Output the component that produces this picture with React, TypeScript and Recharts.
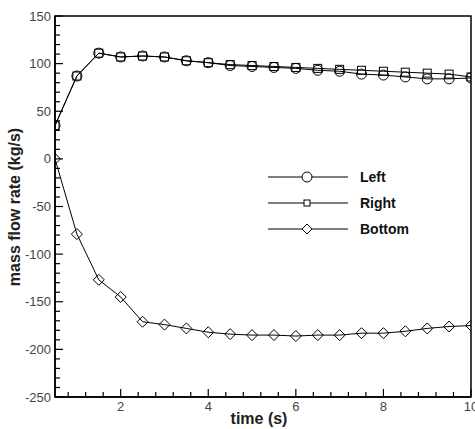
import React from 'react';
import { LineChart, Line, XAxis, YAxis, ReferenceArea } from 'recharts';

const time = [0.5, 1, 1.5, 2, 2.5, 3, 3.5, 4, 4.5, 5, 5.5, 6, 6.5, 7, 7.5, 8, 8.5, 9, 9.5, 10];
const leftFlow = [35, 87, 111, 107, 108, 107, 103, 101, 98, 97, 96, 95, 93, 92, 89, 88, 86, 84, 84, 85];
const rightFlow = [35, 87, 111, 107, 108, 107, 103, 101, 99, 98, 97, 96, 95, 94, 93, 92, 91, 90, 89, 86];
const bottomFlow = [0, -79, -127, -145, -171, -174, -178, -182, -184, -185, -185, -186, -185, -185, -183, -183, -181, -178, -176, -175];

const xMajor = [2, 4, 6, 8, 10];
const xTicks = [0.8, 1.2, 1.6, 2, 2.4, 2.8, 3.2, 3.6, 4, 4.4, 4.8, 5.2, 5.6, 6, 6.4, 6.8, 7.2, 7.6, 8, 8.4, 8.8, 9.2, 9.6, 10];
const yMajor = [150, 100, 50, 0, -50, -100, -150, -200, -250];
const yTicks = [
  150, 140, 130, 120, 110, 100, 90, 80, 70, 60, 50, 40, 30, 20, 10, 0,
  -10, -20, -30, -40, -50, -60, -70, -80, -90, -100, -110, -120, -130, -140, -150,
  -160, -170, -180, -190, -200, -210, -220, -230, -240, -250,
];

const data = time.map((t, i) => ({ t, left: leftFlow[i], right: rightFlow[i], bottom: bottomFlow[i] }));

const FONT = '"Liberation Sans", Arial, sans-serif';

const XTick = (props: any) => {
  const { x, y, payload } = props;
  const major = xMajor.includes(payload.value);
  return (
    <g>
      <line x1={x} y1={y} x2={x} y2={y - (major ? 8 : 5)} stroke="#000" strokeWidth={1.2} />
      {major && (
        <text x={x} y={y + 14} textAnchor="middle" fontSize={13} fill="#444" fontFamily={FONT}>
          {payload.value}
        </text>
      )}
    </g>
  );
};

const YTick = (props: any) => {
  const { x, y, payload } = props;
  const major = yMajor.includes(payload.value);
  return (
    <g>
      <line x1={x} y1={y} x2={x + (major ? 8 : 5)} y2={y} stroke="#000" strokeWidth={1.2} />
      {major && (
        <text x={x - 4} y={y + 4.5} textAnchor="end" fontSize={13} fill="#444" fontFamily={FONT}>
          {payload.value}
        </text>
      )}
    </g>
  );
};

const SquareDot = (props: any) => {
  const { cx, cy, index } = props;
  return <rect key={index} x={cx - 4} y={cy - 4} width={8} height={8} fill="none" stroke="#000" strokeWidth={1} />;
};

const DiamondDot = (props: any) => {
  const { cx, cy, index } = props;
  return (
    <path key={index} d={`M${cx},${cy - 5.5}L${cx + 5.5},${cy}L${cx},${cy + 5.5}L${cx - 5.5},${cy}Z`} fill="none" stroke="#000" strokeWidth={1} />
  );
};

const legendItems = [
  { name: 'Left', kind: 'circle' },
  { name: 'Right', kind: 'square' },
  { name: 'Bottom', kind: 'diamond' },
];

const LegendBox = () => (
  <div style={{ position: 'absolute', left: 268, top: 164, fontFamily: FONT }}>
    {legendItems.map((it) => (
      <div key={it.name} style={{ display: 'flex', alignItems: 'center', height: 26 }}>
        <svg width={82} height={14}>
          <line x1={0} y1={7} x2={80} y2={7} stroke="#000" strokeWidth={1} />
          {it.kind === 'circle' && <circle cx={39} cy={7} r={5} fill="#fff" stroke="#000" />}
          {it.kind === 'square' && <rect x={36} y={4} width={6} height={6} fill="#fff" stroke="#000" />}
          {it.kind === 'diamond' && <path d="M39,2L44,7L39,12L34,7Z" fill="#fff" stroke="#000" />}
        </svg>
        <span style={{ marginLeft: 10, fontSize: 14, fontWeight: 'bold', color: '#111' }}>{it.name}</span>
      </div>
    ))}
  </div>
);

export default function App() {
  return (
    <div style={{ position: 'absolute', left: 0, top: 0, width: 475, height: 429, background: '#fff', overflow: 'hidden' }}>
      <LineChart width={475} height={429} data={data} margin={{ top: 16, right: 4, bottom: 0, left: 0 }}>
        <XAxis
          dataKey="t"
          type="number"
          domain={[0.5, 10]}
          ticks={xTicks}
          interval={0}
          allowDataOverflow
          tickLine={false}
          tickSize={0}
          tickMargin={0}
          height={32}
          stroke="#000"
          strokeWidth={1.5}
          tick={<XTick />}
        />
        <YAxis
          type="number"
          domain={[-250, 150]}
          ticks={yTicks}
          interval={0}
          allowDataOverflow
          tickLine={false}
          tickSize={0}
          tickMargin={0}
          width={55}
          stroke="#000"
          strokeWidth={1.5}
          tick={<YTick />}
        />
        <ReferenceArea x1={0.5} x2={10} y1={-250} y2={150} fill="none" stroke="#000" strokeWidth={1.5} ifOverflow="extendDomain" />
        <Line dataKey="left" stroke="#000" strokeWidth={1} dot={{ r: 5, fill: 'none', stroke: '#000', strokeWidth: 1 }} isAnimationActive={false} />
        <Line dataKey="right" stroke="#000" strokeWidth={1} dot={<SquareDot />} isAnimationActive={false} />
        <Line dataKey="bottom" stroke="#000" strokeWidth={1} dot={<DiamondDot />} isAnimationActive={false} />
      </LineChart>
      <LegendBox />
      <svg width={475} height={429} style={{ position: 'absolute', left: 0, top: 0, pointerEvents: 'none' }}>
        <text x={20} y={207} transform="rotate(-90 20 207)" textAnchor="middle" fontSize={16} fontWeight="bold" fill="#222" fontFamily={FONT}>
          mass flow rate (kg/s)
        </text>
        <text x={259} y={424} textAnchor="middle" fontSize={16} fontWeight="bold" fill="#222" fontFamily={FONT}>
          time (s)
        </text>
      </svg>
    </div>
  );
}
